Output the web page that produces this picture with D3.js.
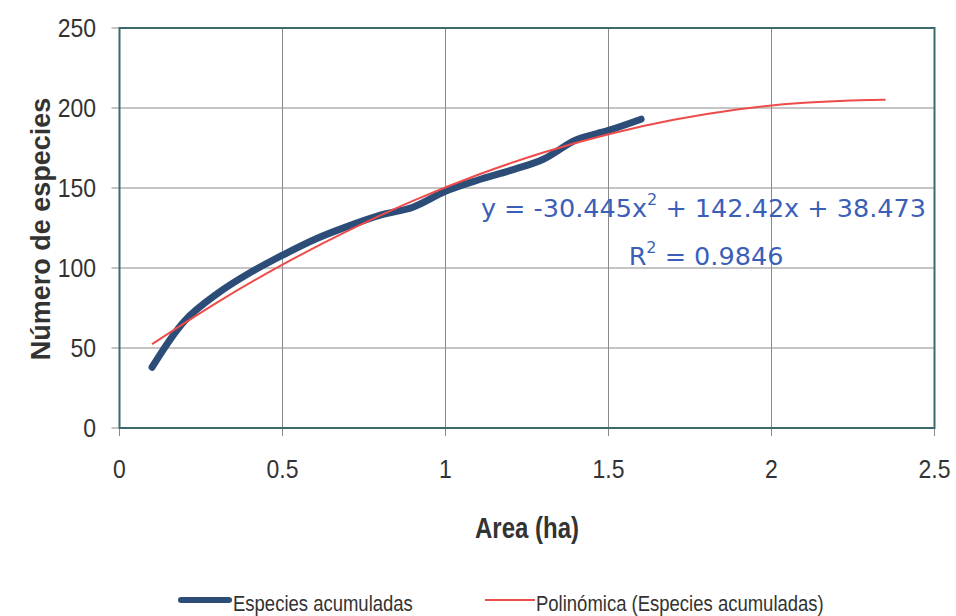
<!DOCTYPE html>
<html>
<head>
<meta charset="utf-8">
<script src="https://cdn.jsdelivr.net/npm/d3@7"></script>
<style>
  body { margin: 0; background: #fff; }
  text { font-family: "Liberation Sans", Arial, sans-serif; }
</style>
</head>
<body>
<div id="rootDiv"></div>
<script>
const width = 956
const height = 616

// observed data (Especies acumuladas)
const areas = [0.1, 0.2, 0.3, 0.4, 0.5, 0.6, 0.7, 0.8, 0.9, 1.0, 1.1, 1.2, 1.3, 1.4, 1.5, 1.6]
const species = [38, 67, 84, 97, 108, 118, 126, 133, 138, 148, 155, 161, 168, 180, 186, 193]

// polynomial trendline
const trendX = [0.1, 0.3, 0.5, 0.7, 0.9, 1.1, 1.3, 1.5, 1.7, 1.9, 2.1, 2.3, 2.35]
const trendY = [52.4, 78.5, 102.1, 123.2, 142.0, 158.3, 172.2, 183.6, 192.6, 199.2, 203.3, 205.0, 205.1]

const xTicks = [0, 0.5, 1, 1.5, 2, 2.5]
const yTicks = [0, 50, 100, 150, 200, 250]
const seriesNames = ["Especies acumuladas", "Polinómica (Especies acumuladas)"]

const colors = {
    obs: "#2c4d78",
    trend: "#ee4b4b",
    eq: "#3b5fb8",
    frame: "#3d6a6a",
    grid: "#8a8a8a",
    text: "#333333"
}

const svg = d3.select("#rootDiv")
    .append("svg")
    .attr("width", width)
    .attr("height", height)

const x = d3.scaleLinear().domain([0, 2.5]).range([119.5, 934.5])
const y = d3.scaleLinear().domain([0, 250]).range([428, 28])

// the original text is a bit taller than it is wide
function tallText(parent, tx, ty, size, k, anchor) {
    return parent.append("text")
        .attr("transform", `translate(${tx}, ${ty}) scale(1, ${k})`)
        .attr("text-anchor", anchor)
        .attr("font-size", size)
        .attr("fill", colors.text)
}

// gridlines
svg.append("g")
    .selectAll("line")
    .data(xTicks.slice(1, -1))
    .join("line")
    .attr("x1", d => x(d)).attr("x2", d => x(d))
    .attr("y1", y(250)).attr("y2", y(0) + 8)
    .attr("stroke", colors.grid)
    .attr("stroke-width", 1)

svg.append("g")
    .selectAll("line")
    .data(yTicks.slice(1, -1))
    .join("line")
    .attr("x1", x(0) - 8).attr("x2", x(2.5))
    .attr("y1", d => y(d)).attr("y2", d => y(d))
    .attr("stroke", colors.grid)
    .attr("stroke-width", 1)

// tick marks on the frame ends
svg.append("g")
    .selectAll("line")
    .data([0, 250])
    .join("line")
    .attr("x1", x(0) - 8).attr("x2", x(0))
    .attr("y1", d => y(d)).attr("y2", d => y(d))
    .attr("stroke", colors.grid)
svg.append("g")
    .selectAll("line")
    .data([0, 2.5])
    .join("line")
    .attr("x1", d => x(d)).attr("x2", d => x(d))
    .attr("y1", y(0)).attr("y2", y(0) + 8)
    .attr("stroke", colors.grid)

// plot frame
svg.append("rect")
    .attr("x", x(0)).attr("y", y(250))
    .attr("width", x(2.5) - x(0))
    .attr("height", y(0) - y(250))
    .attr("fill", "none")
    .attr("stroke", colors.frame)
    .attr("stroke-width", 2)

// tick labels
const xLab = svg.append("g")
xTicks.forEach(d => tallText(xLab, x(d), 478, 23, 1.12, "middle").text(d))

const yLab = svg.append("g")
yTicks.forEach(d => tallText(yLab, 96, y(d) + 8.5, 23, 1.15, "end").text(d))

// axis titles
svg.append("text")
    .attr("transform", `translate(50, 229) rotate(-90)`)
    .attr("text-anchor", "middle")
    .attr("font-size", 27)
    .attr("font-weight", "bold")
    .attr("fill", colors.text)
    .text("Número de especies")

tallText(svg, (x(0) + x(2.5)) / 2, 538, 24, 1.2, "middle")
    .attr("font-weight", "bold")
    .text("Area (ha)")

// series
const obsLine = d3.line()
    .x((d, i) => x(areas[i]))
    .y(d => y(d))
    .curve(d3.curveCatmullRom)

svg.append("path")
    .attr("d", obsLine(species))
    .attr("fill", "none")
    .attr("stroke", colors.obs)
    .attr("stroke-width", 7)
    .attr("stroke-linecap", "round")
    .attr("stroke-linejoin", "round")

const trendLine = d3.line()
    .x((d, i) => x(trendX[i]))
    .y(d => y(d))
    .curve(d3.curveNatural)

svg.append("path")
    .attr("d", trendLine(trendY))
    .attr("fill", "none")
    .attr("stroke", colors.trend)
    .attr("stroke-width", 2)

// trendline equation
const eq = svg.append("text")
    .attr("x", 926)
    .attr("y", 217)
    .attr("text-anchor", "end")
    .attr("font-size", 25.5)
    .attr("fill", colors.eq)
    .style("font-family", "'DejaVu Sans', sans-serif")
eq.append("tspan").text("y = -30.445x")
eq.append("tspan").attr("dy", -12).attr("font-size", 16).text("2")
eq.append("tspan").attr("dy", 12).text(" + 142.42x + 38.473")

const r2 = svg.append("text")
    .attr("x", 706)
    .attr("y", 265)
    .attr("text-anchor", "middle")
    .attr("font-size", 25.5)
    .attr("fill", colors.eq)
    .style("font-family", "'DejaVu Sans', sans-serif")
r2.append("tspan").text("R")
r2.append("tspan").attr("dy", -12).attr("font-size", 16).text("2")
r2.append("tspan").attr("dy", 12).text(" = 0.9846")

// legend
const legend = svg.append("g")
const legendX = [178, 485]
const legendLen = [54, 50]
legend.selectAll("line")
    .data(seriesNames)
    .join("line")
    .attr("x1", (d, i) => legendX[i] + (i === 0 ? 3 : 0))
    .attr("x2", (d, i) => legendX[i] + legendLen[i] - (i === 0 ? 3 : 0))
    .attr("y1", 600).attr("y2", 600)
    .attr("stroke", (d, i) => i === 0 ? colors.obs : colors.trend)
    .attr("stroke-width", (d, i) => i === 0 ? 6 : 2)
    .attr("stroke-linecap", (d, i) => i === 0 ? "round" : "butt")

seriesNames.forEach((name, i) => {
    tallText(legend, legendX[i] + legendLen[i] + 1, 611, 18.5, 1.2, "start").text(name)
})
</script>
</body>
</html>
